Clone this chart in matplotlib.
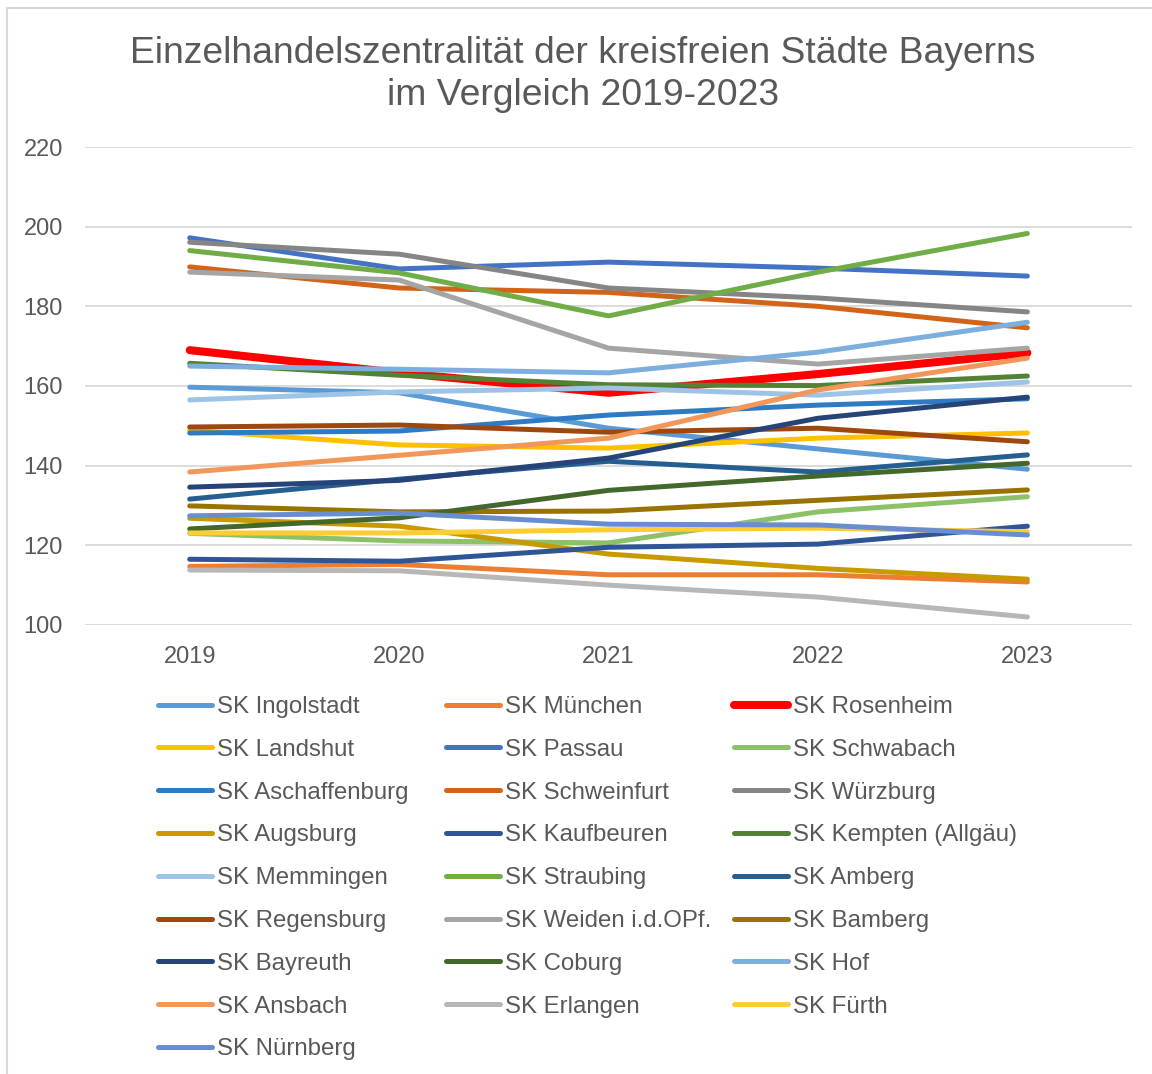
import matplotlib
matplotlib.use("Agg")
import matplotlib.pyplot as plt
from matplotlib.lines import Line2D
from matplotlib.patches import Rectangle

plt.rcParams['font.family'] = ['Liberation Sans', 'DejaVu Sans']

years = ['2019', '2020', '2021', '2022', '2023']

cities = [
    'SK Ingolstadt', 'SK München', 'SK Rosenheim',
    'SK Landshut', 'SK Passau', 'SK Schwabach',
    'SK Aschaffenburg', 'SK Schweinfurt', 'SK Würzburg',
    'SK Augsburg', 'SK Kaufbeuren', 'SK Kempten (Allgäu)',
    'SK Memmingen', 'SK Straubing', 'SK Amberg',
    'SK Regensburg', 'SK Weiden i.d.OPf.', 'SK Bamberg',
    'SK Bayreuth', 'SK Coburg', 'SK Hof',
    'SK Ansbach', 'SK Erlangen', 'SK Fürth',
    'SK Nürnberg',
]

ingolstadt = [159.7, 158.3, 149.4, 144.2, 139.1]
muenchen = [114.7, 115.2, 112.6, 112.6, 110.8]
rosenheim = [169.0, 163.3, 158.3, 163.0, 168.3]
landshut = [148.9, 145.2, 144.4, 146.9, 148.2]
passau = [197.2, 189.4, 191.1, 189.6, 187.6]
schwabach = [123.0, 121.1, 120.6, 128.4, 132.2]
aschaffenburg = [148.2, 148.7, 152.7, 155.2, 156.8]
schweinfurt = [189.9, 184.6, 183.5, 180.0, 174.6]
wuerzburg = [196.1, 193.1, 184.6, 182.1, 178.6]
augsburg = [126.8, 124.8, 117.8, 114.2, 111.5]
kaufbeuren = [116.5, 116.0, 119.5, 120.3, 124.8]
kempten = [165.7, 162.7, 160.3, 160.1, 162.5]
memmingen = [156.5, 158.5, 159.5, 157.7, 161.0]
straubing = [194.0, 188.4, 177.6, 188.6, 198.3]
amberg = [131.6, 136.6, 141.1, 138.4, 142.7]
regensburg = [149.7, 150.2, 148.4, 149.4, 146.0]
weiden = [188.6, 186.6, 169.5, 165.5, 169.5]
bamberg = [129.9, 128.4, 128.6, 131.3, 133.9]
bayreuth = [134.6, 136.3, 141.9, 151.9, 157.2]
coburg = [124.1, 126.9, 133.8, 137.4, 140.6]
hof = [165.0, 164.2, 163.3, 168.5, 176.0]
ansbach = [138.4, 142.6, 146.9, 159.0, 167.0]
erlangen = [113.8, 113.6, 110.0, 107.0, 102.0]
fuerth = [123.1, 123.1, 123.9, 124.3, 123.4]
nuernberg = [127.4, 128.1, 125.3, 125.1, 122.6]

series = [
    ingolstadt, muenchen, rosenheim,
    landshut, passau, schwabach,
    aschaffenburg, schweinfurt, wuerzburg,
    augsburg, kaufbeuren, kempten,
    memmingen, straubing, amberg,
    regensburg, weiden, bamberg,
    bayreuth, coburg, hof,
    ansbach, erlangen, fuerth,
    nuernberg,
]

colors = [
    '#5B9BD5', '#ED7D31', '#FF0000',
    '#FFC000', '#4472C4', '#8CC168',
    '#2E7BC4', '#D2641A', '#858585',
    '#C99A00', '#2F5597', '#548235',
    '#9DC3E6', '#70AD47', '#255E91',
    '#9E480E', '#A5A5A5', '#997300',
    '#264478', '#43682B', '#7CAFDD',
    '#F1975A', '#B7B7B7', '#FFCD33',
    '#698ED0',
]

widths = [3.6] * len(cities)
widths[2] = 5.8  # Rosenheim hervorgehoben

text_col = '#595959'

fig = plt.figure(figsize=(11.52, 10.74), dpi=100)
ax = fig.add_axes([0.0738, 0.4181, 0.9089, 0.4450])

x = list(range(len(years)))
handles = []
for vals, name, c, w in zip(series, cities, colors, widths):
    ln, = ax.plot(x, vals, color=c, lw=w, solid_capstyle='round',
                  solid_joinstyle='round', label=name)
    handles.append(ln)

ax.set_xlim(-0.5, 4.5)
ax.set_ylim(100, 220)
ax.set_yticks(range(100, 221, 20))
ax.set_xticks(x)
ax.set_xticklabels(years)
ax.tick_params(axis='both', length=0, labelsize=17, colors=text_col)
ax.tick_params(axis='y', pad=16)
ax.tick_params(axis='x', pad=15)
ax.grid(axis='y', color='#D9D9D9', lw=1.3)
ax.set_axisbelow(True)
for s in ax.spines.values():
    s.set_visible(False)

fig.text(0.506, 0.9306, 'Einzelhandelszentralität der kreisfreien Städte Bayerns\nim Vergleich 2019-2023',
         ha='center', va='center', fontsize=26.8, color=text_col, linespacing=1.28)

# Legende zeilenweise in drei Spalten
col_x = [158 / 1152, 446 / 1152, 734 / 1152]
for k in range(3):
    hs = []
    for h in handles[k::3]:
        hs.append(Line2D([], [], color=h.get_color(), lw=h.get_linewidth(),
                         solid_capstyle='round'))
    labs = cities[k::3]
    fig.legend(hs, labs, loc='upper left', bbox_to_anchor=(col_x[k], 0.3519),
               frameon=False, fontsize=17.3, labelcolor=text_col,
               handlelength=2.25, handletextpad=0.2, labelspacing=0.865,
               borderpad=0, borderaxespad=0)

fig.patches.append(Rectangle((7 / 1152, -0.05), 1.1, 1 - 8 / 1074 + 0.05,
                             transform=fig.transFigure, fill=False,
                             edgecolor='#D9D9D9', lw=1.5))

fig.savefig('out.png', dpi=100, facecolor='white')
